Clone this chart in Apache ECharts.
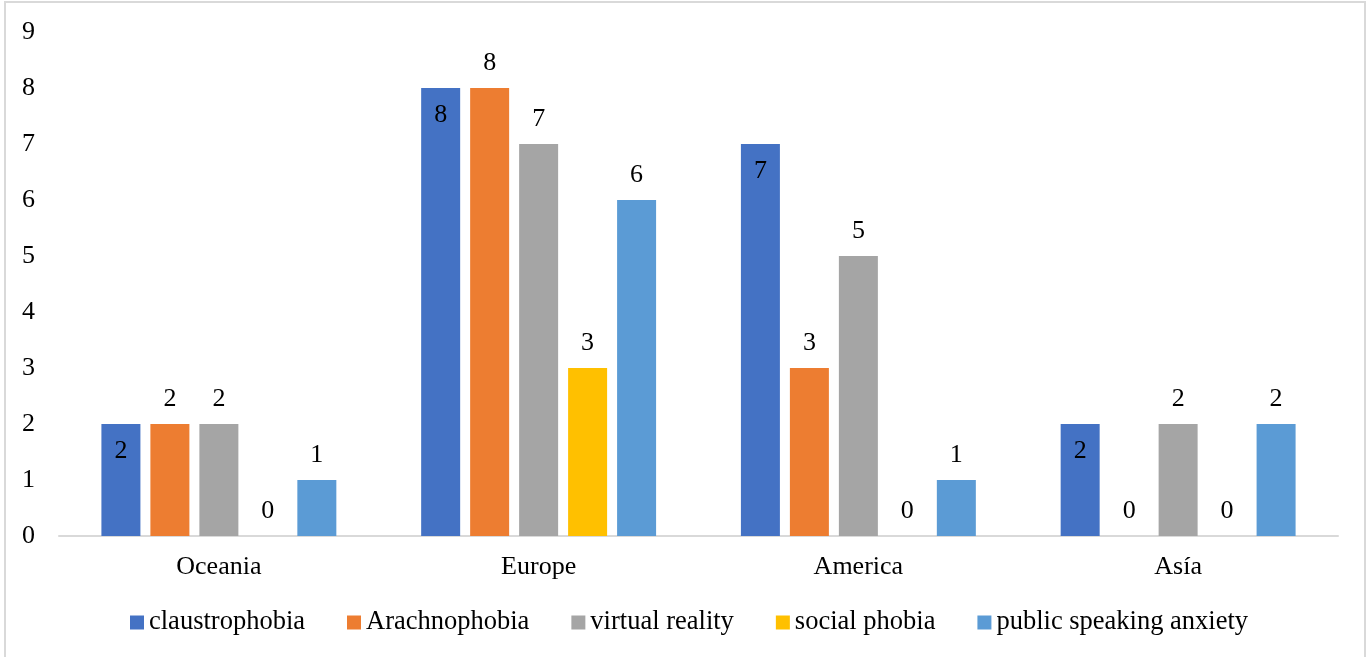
<!DOCTYPE html>
<html>
<head>
<meta charset="utf-8">
<script src="https://cdn.jsdelivr.net/npm/echarts@6/dist/echarts.min.js"></script>
<style>
  html, body { margin: 0; padding: 0; background: #fff; }
  #chart { width: 1368px; height: 657px; }
</style>
</head>
<body>
<div id="chart"></div>
<script>
// Studies by region and phobia type
const regions = ['Oceania', 'Europe', 'America', 'Asía'];
const claustrophobia = [2, 8, 7, 2];
const arachnophobia = [2, 8, 3, 0];
const virtualReality = [2, 7, 5, 2];
const socialPhobia = [0, 3, 0, 0];
const publicSpeaking = [1, 6, 1, 2];
const yTicks = [0, 9, 1]; // min, max, interval

const FONT = '"Liberation Serif", "Times New Roman", serif';
const textStyle = { fontFamily: FONT, fontSize: 26, color: '#000' };

function barSeries(name, data, color, inside) {
  return {
    name: name,
    type: 'bar',
    data: data,
    barWidth: 39,
    barGap: '25.6%',
    itemStyle: { color: color },
    label: {
      show: true,
      position: inside ? 'insideTop' : 'top',
      distance: inside ? 14 : 12,
      fontFamily: FONT,
      fontSize: 26,
      color: '#000'
    },
    emphasis: { disabled: true }
  };
}

const chart = echarts.init(document.getElementById('chart'));
chart.setOption({
  animation: false,
  backgroundColor: '#fff',
  graphic: [{
    type: 'rect',
    shape: { x: 5, y: 2, width: 1360, height: 670 },
    style: { fill: 'none', stroke: '#d9d9d9', lineWidth: 2 },
    silent: true
  }],
  grid: { left: 59, right: 30, top: 32, bottom: 121 },
  legend: {
    bottom: 16,
    left: 125,
    itemWidth: 14,
    itemHeight: 14,
    itemGap: 42,
    icon: 'rect',
    textStyle: { fontFamily: FONT, fontSize: 26.5, color: '#000' },
    data: ['claustrophobia', 'Arachnophobia', 'virtual reality', 'social phobia', 'public speaking anxiety']
  },
  xAxis: {
    type: 'category',
    data: regions,
    axisLine: { lineStyle: { color: '#d9d9d9', width: 2 } },
    axisTick: { show: false },
    axisLabel: Object.assign({ margin: 18 }, textStyle)
  },
  yAxis: {
    type: 'value',
    min: yTicks[0],
    max: yTicks[1],
    interval: yTicks[2],
    axisLine: { show: false },
    axisTick: { show: false },
    splitLine: { show: false },
    axisLabel: Object.assign({ margin: 24 }, textStyle)
  },
  series: [
    barSeries('claustrophobia', claustrophobia, '#4472C4', true),
    barSeries('Arachnophobia', arachnophobia, '#ED7D31', false),
    barSeries('virtual reality', virtualReality, '#A5A5A5', false),
    barSeries('social phobia', socialPhobia, '#FFC000', false),
    barSeries('public speaking anxiety', publicSpeaking, '#5B9BD5', false)
  ]
});
</script>
</body>
</html>
